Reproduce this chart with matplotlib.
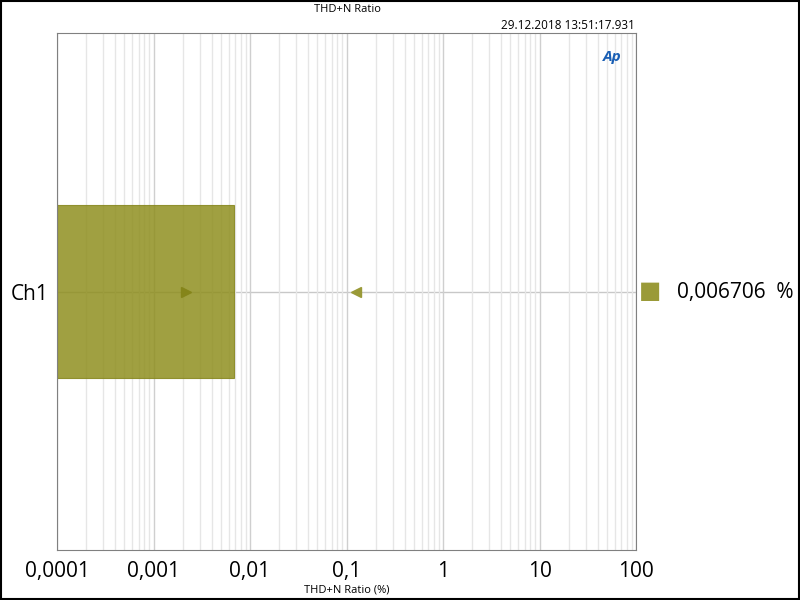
import matplotlib
matplotlib.use('Agg')
from matplotlib import pyplot as plt
from matplotlib.ticker import FixedLocator, LogLocator, NullFormatter

plt.rcParams['font.family'] = ['Open Sans', 'DejaVu Sans']

# data
channels = ['Ch1']
thdn_values = [0.006706]
marker_right = [0.00217]   # right-pointing triangle
marker_left = [0.126]      # left-pointing triangle
tick_values = [0.0001, 0.001, 0.01, 0.1, 1, 10, 100]
tick_labels = ['0,0001', '0,001', '0,01', '0,1', '1', '10', '100']
value_labels = ['0,006706  %']

olive = '#9a9a38'

fig = plt.figure(figsize=(8, 6), dpi=100)
ax = fig.add_axes([0.07125, 0.0833, 0.72375, 0.8617])

ax.set_xscale('log')
ax.set_xlim(1e-4, 100)
ax.set_ylim(-0.5, 0.5)

# grid
ax.xaxis.set_major_locator(FixedLocator(tick_values))
ax.xaxis.set_minor_locator(LogLocator(base=10, subs=range(2, 10), numticks=20))
ax.xaxis.set_minor_formatter(NullFormatter())
ax.grid(True, which='major', axis='x', color='#cfcfcf', lw=1, zorder=0)
ax.grid(True, which='minor', axis='x', color='#e6e6e6', lw=1, zorder=0)
ax.axhline(0, color='#c8c8c8', lw=1, zorder=0.5)

# bar + markers
ax.barh([0], thdn_values, height=0.335, left=1e-4, color='#8f8f1f', alpha=0.85,
        edgecolor='#85851a', lw=0.8, zorder=2)
ax.plot(marker_right, [0], marker='>', ms=7, color='#85851a', ls='none', zorder=3)
ax.plot(marker_left, [0], marker='<', ms=7, color=olive, ls='none', zorder=3)

ax.set_xticks(tick_values)
ax.set_xticklabels(tick_labels, fontsize=15)
ax.set_yticks([0])
ax.set_yticklabels(channels, fontsize=15)
ax.tick_params(which='both', length=0, pad=6)
ax.tick_params(axis='x', pad=8)
for s in ax.spines.values():
    s.set_color('#808080')

ax.set_xlabel('THD+N Ratio (%)', fontsize=8, labelpad=2)

# legend-ish value on the right
fig.text(0.799, 0.5133, '\u25A0', fontsize=17, color=olive, va='center', ha='left')
fig.text(0.846, 0.5133, value_labels[0], fontsize=15, va='center', ha='left')

# header
fig.text(0.434, 0.993, 'THD+N Ratio', fontsize=8, ha='center', va='top')
fig.text(0.793, 0.968, '29.12.2018 13:51:17.931', fontsize=8.5, ha='right', va='top')

# AP logo
ax.text(0.975, 0.968, 'Ap', transform=ax.transAxes, fontsize=11, fontweight='bold',
        fontstyle='italic', color='#1a5fb4', ha='right', va='top', zorder=5)

# outer border
fig.add_artist(plt.Rectangle((0.001, 0.001), 0.998, 0.997, transform=fig.transFigure,
                             fill=False, edgecolor='black', lw=1.5))

fig.savefig('out.png', dpi=100)
